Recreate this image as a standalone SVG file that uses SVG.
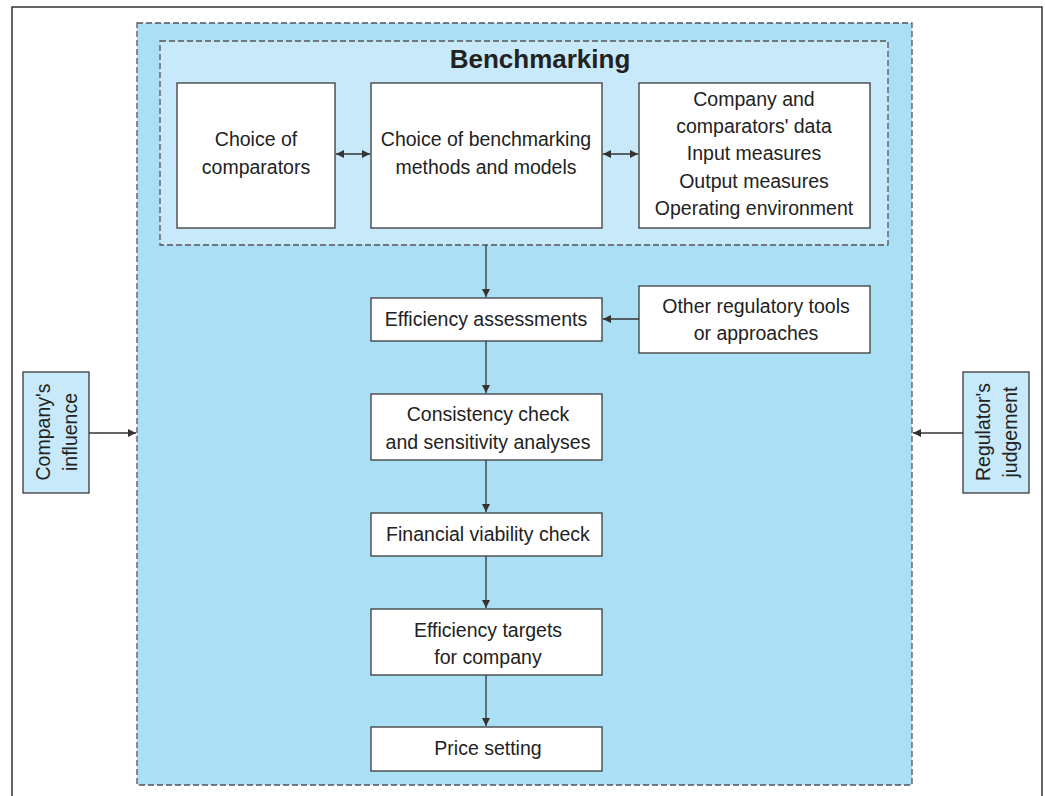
<svg xmlns="http://www.w3.org/2000/svg" width="1045" height="796" viewBox="0 0 1045 796">
<style>
.box{fill:#fff;stroke:#3a3a3a;stroke-width:1.3}
.side{fill:#c7e9f9;stroke:#3a3a3a;stroke-width:1.3}
.t{font-family:"Liberation Sans",Arial,sans-serif;font-size:19.5px;fill:#222;text-anchor:middle}
.c{stroke:#333;stroke-width:1.3;fill:none}
</style>
<defs>
<marker id="ah" viewBox="0 0 10 10" refX="10" refY="5" markerWidth="8" markerHeight="8" orient="auto-start-reverse" markerUnits="userSpaceOnUse">
<path d="M0,0 L10,5 L0,10 z" fill="#333"/>
</marker>
</defs>
<rect width="1045" height="796" fill="#fff"/>
<rect x="12" y="7" width="1030" height="800" fill="none" stroke="#333" stroke-width="1.5"/>
<g id="outer">
<rect x="137" y="23" width="775" height="762" fill="#abdff6" stroke="#555" stroke-width="1.3" stroke-dasharray="6,3"/>
</g>
<g id="benchmarking">
<rect x="160" y="41" width="728" height="204" fill="#c7e9f9" stroke="#555" stroke-width="1.3" stroke-dasharray="6,3"/>
<text x="540" y="68" class="t" style="font-weight:bold;font-size:26px">Benchmarking</text>
</g>
<g id="comparators">
<rect x="177" y="83" width="158" height="145" class="box"/>
<text x="256" y="146" class="t">Choice of</text>
<text x="256" y="174" class="t">comparators</text>
</g>
<g id="methods">
<rect x="371" y="83" width="231" height="145" class="box"/>
<text x="486" y="146" class="t">Choice of benchmarking</text>
<text x="486" y="174" class="t">methods and models</text>
</g>
<g id="data">
<rect x="639" y="83" width="231" height="145" class="box"/>
<text x="754" y="106" class="t">Company and</text>
<text x="754" y="133" class="t">comparators' data</text>
<text x="754" y="160" class="t">Input measures</text>
<text x="754" y="188" class="t">Output measures</text>
<text x="754" y="215" class="t">Operating environment</text>
</g>
<g id="efficiency">
<rect x="371" y="298" width="231" height="43" class="box"/>
<text x="486" y="326" class="t">Efficiency assessments</text>
</g>
<g id="other">
<rect x="639" y="286" width="231" height="67" class="box"/>
<text x="756" y="313" class="t">Other regulatory tools</text>
<text x="756" y="340" class="t">or approaches</text>
</g>
<g id="consistency">
<rect x="371" y="394" width="231" height="66" class="box"/>
<text x="488" y="421" class="t">Consistency check</text>
<text x="488" y="449" class="t">and sensitivity analyses</text>
</g>
<g id="financial">
<rect x="371" y="513" width="231" height="43" class="box"/>
<text x="488" y="541" class="t">Financial viability check</text>
</g>
<g id="targets">
<rect x="371" y="609" width="231" height="66" class="box"/>
<text x="488" y="637" class="t">Efficiency targets</text>
<text x="488" y="664" class="t">for company</text>
</g>
<g id="price">
<rect x="371" y="727" width="231" height="44" class="box"/>
<text x="488" y="755" class="t">Price setting</text>
</g>
<g id="company">
<rect x="23" y="372" width="66" height="121" class="side"/>
<text transform="translate(50,432) rotate(-90)" class="t">Company's</text>
<text transform="translate(77,432) rotate(-90)" class="t">influence</text>
</g>
<g id="regulator">
<rect x="963" y="372" width="66" height="121" class="side"/>
<text transform="translate(990,432) rotate(-90)" class="t">Regulator's</text>
<text transform="translate(1017,432) rotate(-90)" class="t">judgement</text>
</g>
<g id="connectors">
<line x1="336" y1="154" x2="370" y2="154" class="c" marker-start="url(#ah)" marker-end="url(#ah)"/>
<line x1="603" y1="154" x2="638" y2="154" class="c" marker-start="url(#ah)" marker-end="url(#ah)"/>
<line x1="486" y1="245" x2="486" y2="297" class="c" marker-end="url(#ah)"/>
<line x1="639" y1="319" x2="603" y2="319" class="c" marker-end="url(#ah)"/>
<line x1="486" y1="341" x2="486" y2="393" class="c" marker-end="url(#ah)"/>
<line x1="486" y1="460" x2="486" y2="512" class="c" marker-end="url(#ah)"/>
<line x1="486" y1="556" x2="486" y2="608" class="c" marker-end="url(#ah)"/>
<line x1="486" y1="675" x2="486" y2="726" class="c" marker-end="url(#ah)"/>
<line x1="89" y1="433" x2="136" y2="433" class="c" marker-end="url(#ah)"/>
<line x1="963" y1="433" x2="913" y2="433" class="c" marker-end="url(#ah)"/>
</g>
</svg>
